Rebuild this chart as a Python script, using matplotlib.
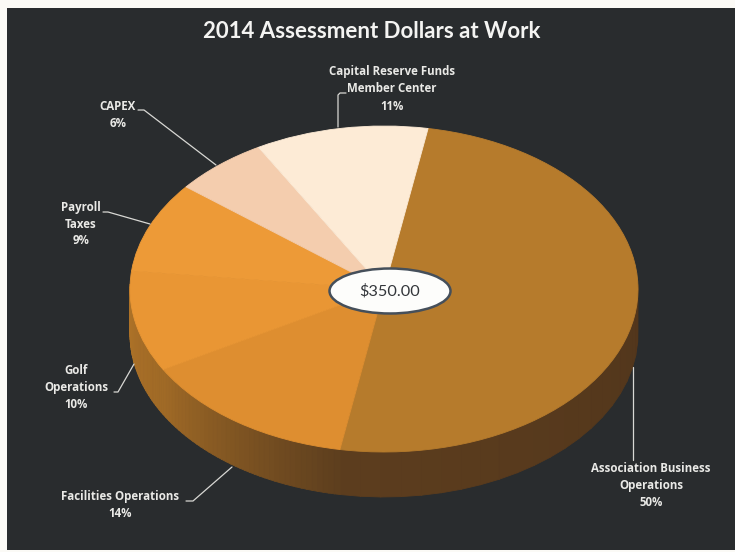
from matplotlib import use

use("Agg")
import matplotlib.pyplot as plt
import numpy as np
from matplotlib.colors import to_rgb
from matplotlib.patches import Ellipse, Polygon, Rectangle

plt.rcParams["font.family"] = ["Lato", "DejaVu Sans"]

title = "2014 Assessment Dollars at Work"
categories = [
    "Association Business\nOperations",
    "Facilities Operations",
    "Golf\nOperations",
    "Payroll\nTaxes",
    "CAPEX",
    "Capital Reserve Funds\nMember Center",
]
shares = [50, 14, 10, 9, 6, 11]
total_label = "$350.00"

top_colors = ["#B67B2C", "#DE8E30", "#E99634", "#ED9A37", "#F4CDAE", "#FDEBD6"]
wall_colors = [
    ("#5C3D1E", "#4A3019"),
    ("#A06A26", "#5E3F1E"),
    ("#B27528", "#A06A26"),
    ("#B27528", "#B27528"),
    ("#B27528", "#B27528"),
    ("#B27528", "#B27528"),
]

# pixel geometry of the drawn pie
cx, cy, rx, ry, depth = 384, 289, 254, 163, 45
W, H = 735, 552

fig = plt.figure(figsize=(W / 100, H / 100), dpi=100, facecolor="#FBFAF6")
fig.add_artist(
    Rectangle((7 / W, 0.004), 728 / W, 1 - 8 / H - 0.004, transform=fig.transFigure,
              facecolor="#292C2E", edgecolor="none", zorder=-1)
)

axis = fig.add_axes([0, 0, 1, 1])
wedges, _ = axis.pie(shares, colors=top_colors, startangle=80, counterclock=False, radius=1,
                     center=(0, 0), wedgeprops={"linewidth": 0.6, "zorder": 3})
for wedge, color in zip(wedges, top_colors):
    wedge.set_edgecolor(color)
axis.set_aspect("auto")
axis.set_xlim(-cx / rx, (W - cx) / rx)
axis.set_ylim(-(H - cy) / ry, cy / ry)
axis.patch.set_visible(False)

# side wall: only the front half of the rim shows
drop = depth / ry
for wedge, (near, far) in zip(wedges, wall_colors):
    a0, a1 = wedge.theta1, wedge.theta2
    angles = np.linspace(a0, a1, 40)
    for i in range(len(angles) - 1):
        t0, t1 = np.radians(angles[i]), np.radians(angles[i + 1] + 0.1)
        if np.sin(t0) > 0.02 and np.sin(t1) > 0.02:
            continue
        mix = i / (len(angles) - 2)
        color = (1 - mix) * np.array(to_rgb(near)) + mix * np.array(to_rgb(far))
        axis.add_patch(Polygon(
            [(np.cos(t0), np.sin(t0)), (np.cos(t1), np.sin(t1)),
             (np.cos(t1), np.sin(t1) - drop), (np.cos(t0), np.sin(t0) - drop)],
            facecolor=color, edgecolor=color, lw=0.6, zorder=2))

# labels and leaders are placed in pixel coordinates
overlay = fig.add_axes([0, 0, 1, 1], zorder=5)
overlay.set_xlim(0, W)
overlay.set_ylim(H, 0)
overlay.axis("off")

overlay.text(372, 32, title, color="#F4F4F2", fontsize=16, fontweight="bold", ha="center", va="center")

label_spots = [(651, 486), (120, 505), (76, 387), (81, 224), (118, 115), (392, 89)]
for name, share, (x, y) in zip(categories, shares, label_spots):
    overlay.text(x, y, f"{name}\n{share}%", color="#E9E9E6", fontsize=8.3, fontweight="bold",
                 ha="center", va="center", linespacing=1.4, family=["Open Sans", "DejaVu Sans"])

leaders = [
    ([633, 633], [367, 460]),
    ([186, 193, 232], [501, 501, 467]),
    ([114, 118, 134], [392, 392, 364]),
    ([103, 108, 150], [212, 212, 224]),
    ([138, 144, 216], [110, 110, 165]),
    ([346, 340, 338, 338], [93, 93, 95, 127]),
]
for xs, ys in leaders:
    overlay.plot(xs, ys, color="#D8D8D4", lw=0.9, solid_capstyle="round")

overlay.add_patch(Ellipse((390, 291), 121, 45, facecolor="#FDFDFB", edgecolor="#454F5A", lw=1.8, zorder=6))
overlay.text(390, 291, total_label, color="#33363A", fontsize=11.7, ha="center", va="center", zorder=7)

fig.savefig("out.png", dpi=100, facecolor=fig.get_facecolor())
